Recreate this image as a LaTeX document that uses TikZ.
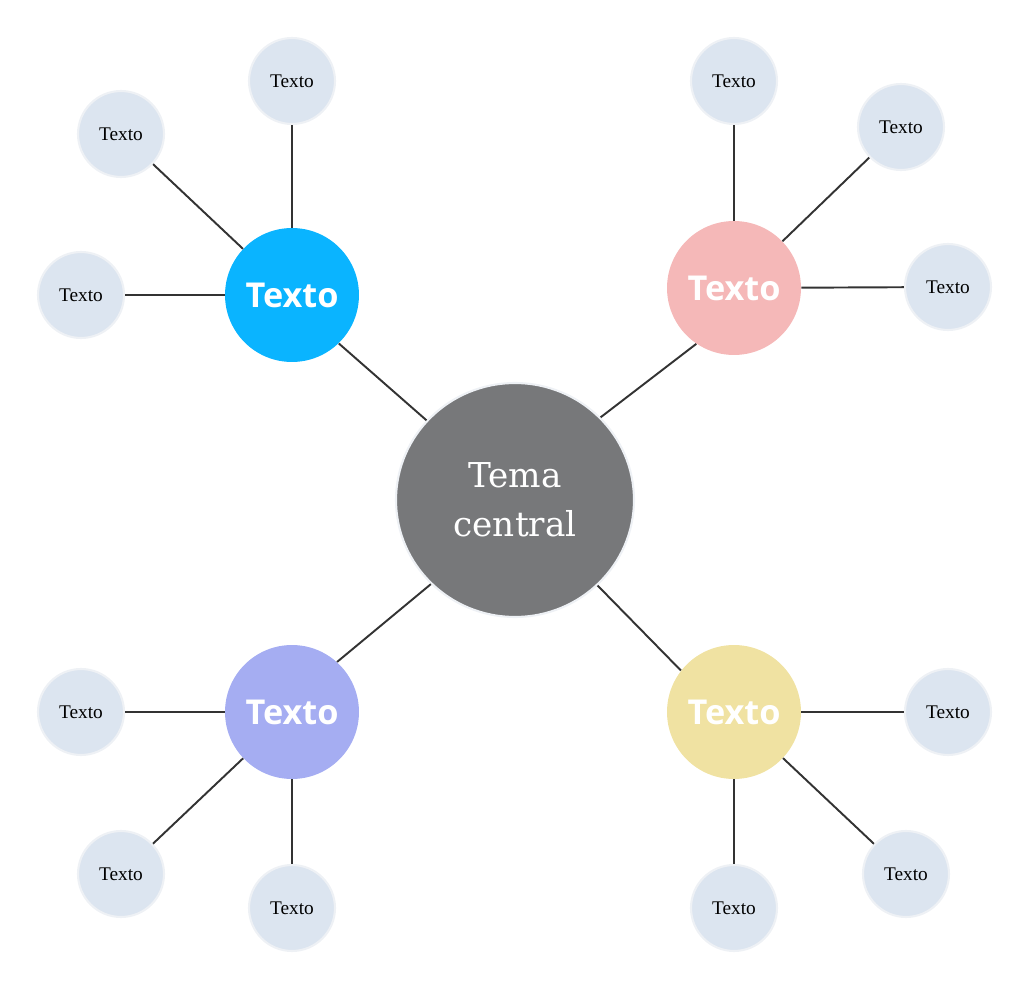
\documentclass[tikz,border=0pt]{standalone}
\usepackage{fontspec}
\setmainfont{Liberation Serif}
\newfontfamily\topicfont{DejaVu Serif}
\newfontfamily\branchfont{Open Sans}
\definecolor{linegray}{HTML}{333333}
\definecolor{topicgray}{HTML}{77787A}
\definecolor{leafblue}{HTML}{DCE5F0}
\definecolor{leafrim}{HTML}{EEF1F5}
\definecolor{skyblue}{HTML}{0AB4FF}
\definecolor{rosepink}{HTML}{F5B8B8}
\definecolor{lilac}{HTML}{A5ADF2}
\definecolor{strawyellow}{HTML}{F0E2A2}
\tikzset{
  topic/.style={ellipse, fill=topicgray, draw=leafrim, line width=1.2pt,
    minimum width=4.76cm, minimum height=4.68cm, text=white, align=center,
    font=\topicfont\fontsize{19.5}{28}\selectfont},
  branch/.style={circle, minimum size=2.68cm, inner sep=0pt,
    text=white, font=\branchfont\bfseries\fontsize{19.5}{22}\selectfont},
  leaf/.style={circle, fill=leafblue, draw=leafrim, line width=1.2pt,
    minimum size=1.72cm, inner sep=0pt, font=\fontsize{11}{13}\selectfont},
  link/.style={draw=linegray, line width=1.1pt}
}
\usetikzlibrary{shapes.geometric}
\begin{document}
\begin{tikzpicture}[x=0.02cm, y=-0.02cm]
\useasboundingbox (0,0) rectangle (1029,990);
% centre
\node[topic] (tema) at (515,500) {Tema\\central};
% branches
\node[branch, fill=skyblue] (bA) at (292,295) {Texto};
\node[branch, fill=rosepink] (bB) at (734,288) {Texto};
\node[branch, fill=lilac] (bC) at (292,712) {Texto};
\node[branch, fill=strawyellow] (bD) at (734,712) {Texto};
% leaves
\node[leaf] (a1) at (292,81) {Texto};
\node[leaf] (a2) at (121,134) {Texto};
\node[leaf] (a3) at (81,295) {Texto};
\node[leaf] (b1) at (734,81) {Texto};
\node[leaf] (b2) at (901,127) {Texto};
\node[leaf] (b3) at (948,287) {Texto};
\node[leaf] (c1) at (81,712) {Texto};
\node[leaf] (c2) at (121,874) {Texto};
\node[leaf] (c3) at (292,908) {Texto};
\node[leaf] (d1) at (948,712) {Texto};
\node[leaf] (d2) at (906,874) {Texto};
\node[leaf] (d3) at (734,908) {Texto};
% links
\path[link] (tema.138) -- (bA.314);
\path[link] (tema.44) -- (bB.236);
\path[link] (tema.225) -- (bC.48);
\path[link] (tema.314) -- (bD.142);
\foreach \l in {a1,a2,a3} \path[link] (bA) -- (\l);
\foreach \l in {b1,b2,b3} \path[link] (bB) -- (\l);
\foreach \l in {c1,c2,c3} \path[link] (bC) -- (\l);
\foreach \l in {d1,d2,d3} \path[link] (bD) -- (\l);
\end{tikzpicture}
\end{document}
